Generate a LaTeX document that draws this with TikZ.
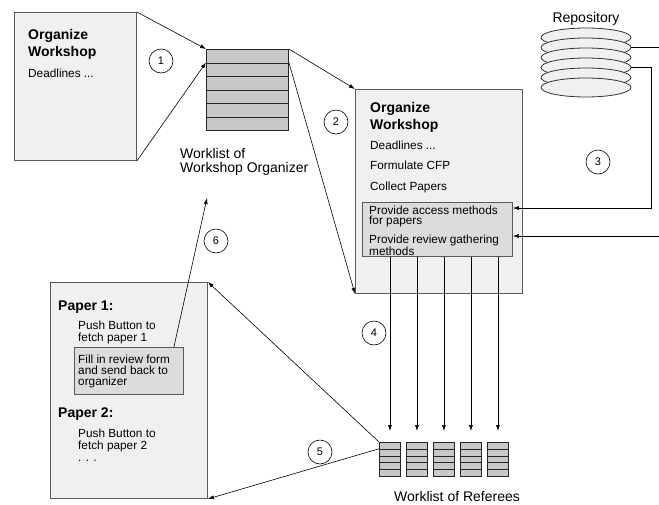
\documentclass[tikz,border=0pt]{standalone}
\usepackage{fontspec}
\setmainfont{Liberation Sans}
\usetikzlibrary{arrows.meta,shapes.geometric}
\definecolor{boxgray}{RGB}{240,240,240}
\definecolor{innergray}{RGB}{220,220,220}
\definecolor{cellgray}{RGB}{200,200,200}
\definecolor{edgegray}{RGB}{90,90,90}

\tikzset{
  panel/.style={draw=edgegray, fill=boxgray, line width=0.9pt, anchor=north west, inner sep=0pt},
  subpanel/.style={draw=edgegray, fill=innergray, line width=0.9pt, anchor=north west, inner sep=0pt},
  cell/.style={draw=black!85, fill=cellgray, line width=0.9pt, anchor=north west, inner sep=0pt},
  disk/.style={ellipse, draw=black!80, fill=boxgray, line width=0.8pt, minimum width=90pt, minimum height=19pt, inner sep=0pt},
  heading/.style={anchor=north west, inner sep=0pt, align=left, font=\fontsize{14}{16.7}\selectfont\bfseries},
  body/.style={anchor=north west, inner sep=0pt, align=left, font=\fontsize{11.8}{12}\selectfont},
  caption/.style={inner sep=0pt, font=\fontsize{14}{14}\selectfont},
  num/.style={circle, draw, line width=0.6pt, minimum size=24pt, inner sep=0pt, font=\fontsize{11}{11}\selectfont},
  flow/.style={-{Latex[length=6pt,width=4pt]}, line width=0.6pt}
}

\begin{document}
\begin{tikzpicture}[x=1pt,y=-1pt]
\useasboundingbox (0,0) rectangle (659,504);

% Organizer task
\node[panel, minimum width=122pt, minimum height=148pt] (task) at (14,12) {};
\node[heading] (tasktitle) at (28,29.5) {Organize\\Workshop};
\node[body] (taskdl) at (28,69) {Deadlines ...};

% Worklist of organizer
\foreach \r in {0,...,5}
  \node[cell, minimum width=82pt, minimum height=13.5pt] (wlorg-\r) at (206,49+13.5*\r) {};
\node[caption, align=left, anchor=north west] (wlorglabel) at (180,148) {Worklist of\\Workshop Organizer};

% Organize box
\node[panel, minimum width=167pt, minimum height=204pt] (organize) at (355,89) {};
\node[heading] (orgtitle) at (370,102) {Organize\\Workshop};
\node[body, font=\fontsize{11.8}{20.5}\selectfont] (orgsteps) at (370,140.5) {Deadlines ...\\Formulate CFP\\Collect Papers};
\node[subpanel, minimum width=150pt, minimum height=54pt] (access) at (362,202) {};
\node[body, font=\fontsize{11.8}{10.5}\selectfont] (accesstext) at (369,205.5) {Provide access methods\\for papers\\[6.5pt]Provide review gathering\\methods};

% Repository
\node[caption, anchor=base] (repolabel) at (586,22) {Repository};
\foreach \i in {1,...,6}
  \node[disk] (repo-\i) at (586,27.5+10*\i) {};
\coordinate (repout) at (659,47.5);
\coordinate (repbend) at (651,208);
\coordinate (revin) at (659,236);
\draw[line width=0.6pt] (repo-2.east) -- (repout);
\draw[flow] (repo-4.east) -| (repbend) -- (repbend -| access.east);
\draw[flow] (revin) -- (revin -| access.east);

% Worklists of referees
\foreach \s in {1,...,5}
  \foreach \r in {0,...,4}
    \node[cell, minimum width=21pt, minimum height=6.8pt] (wlref-\s-\r) at (352+27*\s,442+6.8*\r) {};
\node[caption, anchor=base] (wlreflabel) at (457,501) {Worklist of Referees};
\foreach \s in {1,...,5}
  \draw[flow, shorten >=11pt] (access.south -| wlref-\s-0.north) -- (wlref-\s-0.north);

% Paper sheet of a referee
\node[panel, minimum width=157pt, minimum height=216pt] (paper) at (50,282) {};
\node[heading] (p1title) at (58,301) {Paper 1:};
\node[body] (p1fetch) at (78,320.5) {Push Button to\\fetch paper 1};
\node[subpanel, minimum width=109pt, minimum height=47pt] (review) at (74,347) {};
\node[body, font=\fontsize{11.8}{11}\selectfont] (reviewtext) at (78,354.5) {Fill in review form\\and send back to\\organizer};
\node[heading] (p2title) at (58,408) {Paper 2:};
\node[body] (p2fetch) at (78,428.5) {Push Button to\\fetch paper 2\\. . .};

% Arrows
\draw[flow] (task.north east) -- (wlorg-0.north west);
\draw[flow] (task.south east) -- (wlorg-1.north west);
\draw[flow] (wlorg-0.north east) -- (organize.north west);
\draw[flow] (wlorg-1.north east) -- (organize.south west);
\draw[flow] (wlref-1-0.north west) -- (paper.north east);
\draw[flow] (wlref-1-1.north west) -- (paper.south east);
\coordinate (fbtip) at (207,198);
\draw[flow] ([xshift=-10pt]review.north east) -- (fbtip);

% Steps
\node[num] (n1) at (161,61) {1};
\node[num] (n2) at (336,122) {2};
\node[num] (n3) at (598,162) {3};
\node[num] (n4) at (374,333) {4};
\node[num] (n5) at (320,452) {5};
\node[num] (n6) at (216,241) {6};
\end{tikzpicture}
\end{document}
